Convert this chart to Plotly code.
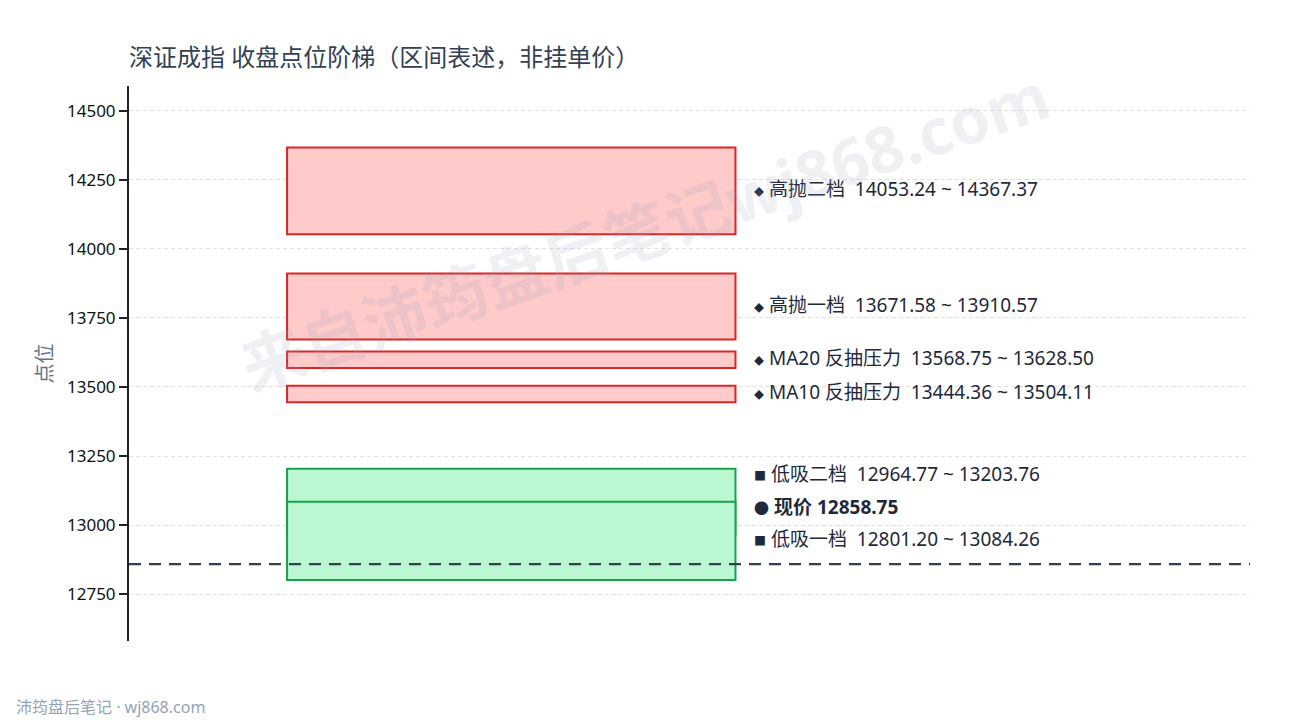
import plotly.graph_objects as go

# 区间（下沿, 上沿）
zone_names = ["高抛二档", "高抛一档", "MA20 反抽压力", "MA10 反抽压力", "低吸二档", "低吸一档"]
zone_low = [14053.24, 13671.58, 13568.75, 13444.36, 12964.77, 12801.20]
zone_high = [14367.37, 13910.57, 13628.50, 13504.11, 13203.76, 13084.26]
zone_kind = ["sell", "sell", "sell", "sell", "buy", "buy"]
current_price = 12858.75
y_ticks = [12750, 13000, 13250, 13500, 13750, 14000, 14250, 14500]

FONT = "Noto Sans, Noto Sans CJK SC, sans-serif"
STYLE = {
    "sell": {"fill": "#fecaca", "line": "#dc2626", "mark": "◆"},
    "buy": {"fill": "#bbf7d0", "line": "#16a34a", "mark": "■"},
}
BOX_X = (0.141, 0.541)
LABEL_X = 0.556
# 标签的像素微调，避免低吸区重叠
LABEL_SHIFT = {"低吸二档": 26}

fig = go.Figure()
# invisible trace so axes exist
fig.add_trace(go.Scatter(x=[0, 1], y=[zone_low[-1], zone_high[0]], mode="markers",
                         marker={"opacity": 0}, hoverinfo="skip", showlegend=False))

for name, lo, hi, kind in zip(zone_names, zone_low, zone_high, zone_kind):
    st = STYLE[kind]
    fig.add_shape(type="rect", xref="x", yref="y", x0=BOX_X[0], x1=BOX_X[1], y0=lo, y1=hi,
                  fillcolor=st["fill"], line={"color": st["line"], "width": 2}, layer="above")
    mark_size = 10 if kind == "sell" else 12
    fig.add_annotation(
        x=LABEL_X, y=(lo + hi) / 2, xref="x", yref="y", xanchor="left", yanchor="middle",
        yshift=LABEL_SHIFT.get(name, 0) + 2, showarrow=False,
        text=f"<span style='font-size:{mark_size}px'>{st['mark']}</span> {name}  {lo:.2f} ~ {hi:.2f}",
        font={"family": FONT, "size": 19, "color": "#1e293b"},
    )

fig.add_shape(type="line", xref="paper", yref="y", x0=0, x1=1, y0=current_price, y1=current_price,
              line={"color": "#334155", "width": 2.2, "dash": "12px,8px"}, layer="above")
fig.add_annotation(
    x=LABEL_X, y=current_price, xref="x", yref="y", xanchor="left", yanchor="middle",
    yshift=57, showarrow=False,
    text=f"<span style='font-size:15px'>●</span> <b>现价 {current_price:.2f}</b>",
    font={"family": FONT, "size": 19, "color": "#1e293b"},
)

# 水印
fig.add_annotation(
    x=0.46, y=0.74, xref="paper", yref="paper", xanchor="center", yanchor="middle",
    showarrow=False, textangle=-19,
    text="<b>来自沛筠盘后笔记wj868.com</b>",
    font={"family": FONT, "size": 64, "color": "rgba(148,163,184,0.16)"},
)
fig.add_annotation(
    x=0, y=0, xref="paper", yref="paper", xanchor="left", yanchor="middle",
    xshift=-115, yshift=-66, showarrow=False,
    text="沛筠盘后笔记 · wj868.com",
    font={"family": FONT, "size": 16, "color": "#94a3b8"},
)

fig.update_layout(
    width=1274, height=712,
    paper_bgcolor="#ffffff", plot_bgcolor="#ffffff",
    margin={"l": 121, "r": 32, "t": 78, "b": 79},
    title={"text": "深证成指 收盘点位阶梯（区间表述，非挂单价）", "x": 121 / 1274, "xanchor": "left",
           "y": 1 - 50 / 712, "yanchor": "middle",
           "font": {"family": FONT, "size": 24, "color": "#334155"}},
    xaxis={"range": [0, 1], "visible": False, "fixedrange": True},
    yaxis={"range": [12580, 14590], "tickvals": y_ticks, "tickformat": "d",
           "ticks": "outside", "ticklen": 8,
           "tickwidth": 2, "tickcolor": "#222222", "showline": True, "linewidth": 2,
           "linecolor": "#222222", "showgrid": True, "gridcolor": "#e0e0e0", "griddash": "4px,3px",
           "gridwidth": 1, "zeroline": False,
           "tickfont": {"family": FONT, "size": 17, "color": "#111111"},
           "title": {"text": "点位", "font": {"family": FONT, "size": 20, "color": "#64748b"},
                     "standoff": 9}},
    showlegend=False,
)

fig.write_html("out.html")
